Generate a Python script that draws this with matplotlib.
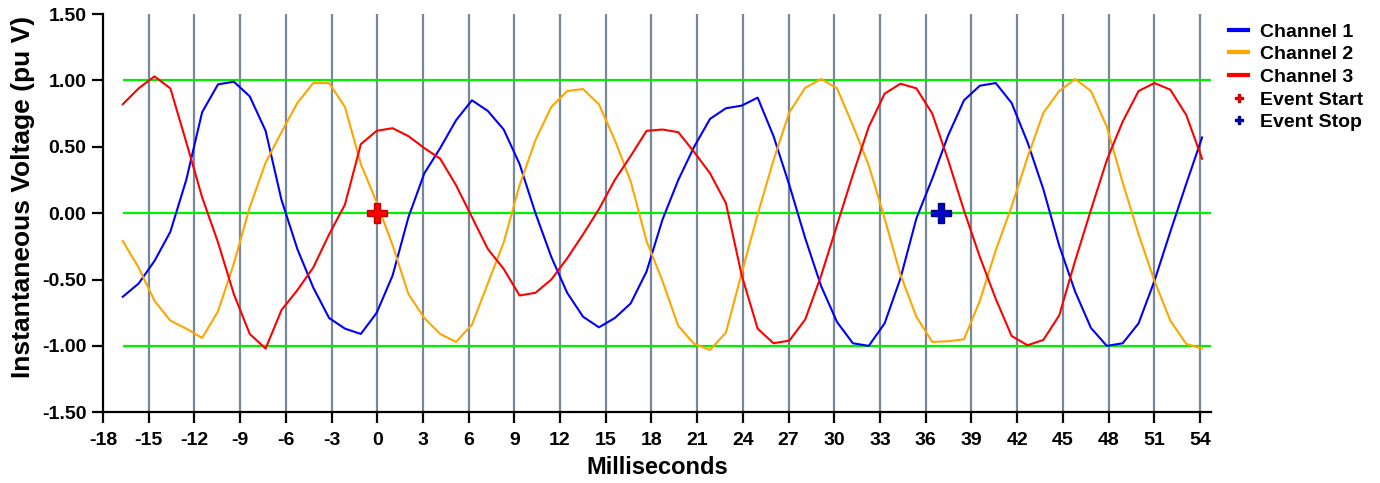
import matplotlib
matplotlib.use("Agg")
import matplotlib.pyplot as plt
import numpy as np

plt.rcParams['font.family'] = ['Liberation Sans', 'DejaVu Sans']
plt.rcParams['font.weight'] = 'bold'
plt.rcParams['axes.unicode_minus'] = False

# sample timebase (ms): every other sample of a 1920 Hz record
t_start = -16.70
t_step = 1.0417

ch1 = [-0.63, -0.53, -0.36, -0.14, 0.25, 0.76, 0.97, 0.99, 0.88, 0.62,
       0.10, -0.27, -0.56, -0.79, -0.87, -0.91, -0.75, -0.47, -0.03, 0.30,
       0.49, 0.70, 0.85, 0.77, 0.63, 0.37, 0.00, -0.33, -0.60, -0.78,
       -0.86, -0.79, -0.68, -0.44, -0.05, 0.25, 0.50, 0.71, 0.79, 0.81,
       0.87, 0.58, 0.21, -0.19, -0.55, -0.82, -0.98, -1.00, -0.83, -0.49,
       -0.04, 0.26, 0.585, 0.85, 0.96, 0.98, 0.83, 0.535, 0.18, -0.245,
       -0.59, -0.865, -1.00, -0.98, -0.83, -0.51, -0.14, 0.22, 0.57]

ch2 = [-0.21, -0.41, -0.66, -0.81, -0.87, -0.94, -0.74, -0.38, 0.045, 0.38,
       0.61, 0.83, 0.98, 0.98, 0.80, 0.37, 0.08, -0.24, -0.61, -0.79,
       -0.91, -0.97, -0.84, -0.53, -0.22, 0.21, 0.55, 0.80, 0.92, 0.935,
       0.82, 0.55, 0.24, -0.21, -0.51, -0.85, -0.985, -1.03, -0.90, -0.45,
       -0.01, 0.40, 0.76, 0.945, 1.01, 0.94, 0.66, 0.36, -0.04, -0.465,
       -0.78, -0.97, -0.965, -0.95, -0.66, -0.28, 0.05, 0.42, 0.755, 0.92,
       1.01, 0.92, 0.65, 0.23, -0.16, -0.51, -0.81, -0.985, -1.02]

ch3 = [0.82, 0.94, 1.03, 0.94, 0.535, 0.12, -0.22, -0.61, -0.91, -1.02,
       -0.73, -0.58, -0.41, -0.16, 0.065, 0.52, 0.62, 0.64, 0.58, 0.49,
       0.41, 0.21, -0.03, -0.27, -0.42, -0.62, -0.60, -0.50, -0.34, -0.16,
       0.03, 0.25, 0.43, 0.62, 0.63, 0.61, 0.46, 0.30, 0.075, -0.47,
       -0.87, -0.98, -0.96, -0.80, -0.47, -0.09, 0.29, 0.65, 0.90, 0.975,
       0.94, 0.75, 0.40, 0.02, -0.33, -0.645, -0.925, -0.995, -0.955, -0.77,
       -0.36, 0.025, 0.40, 0.69, 0.92, 0.98, 0.93, 0.74, 0.41]

event_start = (0.0, 0.0)
event_stop = (37.0, 0.0)

ref_levels = [1.0, 0.0, -1.0]
x_ticks = np.arange(-18, 55, 3)
y_ticks = np.arange(-1.5, 1.51, 0.5)

t = t_start + t_step * np.arange(len(ch1))

fig = plt.figure(figsize=(13.8, 4.83), dpi=100)
ax = fig.add_axes([0.0746, 0.1464, 0.8027, 0.8246])

# vertical grid at every x tick
for xv in x_ticks[1:]:
    ax.axvline(xv, color='#778899', lw=1.6, zorder=1)
# reference levels at +1, 0, -1 pu
ax.hlines(ref_levels, t[0], 54.7, colors='#00f000', lw=1.6, zorder=2)

ax.plot(t, ch1, color='#0000ff', lw=1.5, label='Channel 1', zorder=3)
ax.plot(t, ch2, color='#ffa500', lw=1.5, label='Channel 2', zorder=3)
ax.plot(t, ch3, color='#ff0000', lw=1.5, label='Channel 3', zorder=3)
ax.plot(*event_start, marker='P', ms=14, color='#ff0000', mec='#c00000',
        mew=1, ls='none', label='Event Start', zorder=4)
ax.plot(*event_stop, marker='P', ms=14, color='#0000cc', mec='#000080',
        mew=1, ls='none', label='Event Stop', zorder=4)

ax.set_xlim(-18, 54.7)
ax.set_ylim(-1.5, 1.5)
ax.set_xticks(x_ticks)
ax.set_yticks(y_ticks)
ax.set_yticklabels(['%.2f' % v for v in y_ticks])
ax.tick_params(direction='out', length=8, width=1.6, labelsize=14, pad=4)
ax.tick_params(axis='x', pad=6)
for lab in ax.get_xticklabels() + ax.get_yticklabels():
    lab.set_fontweight('bold')
for s in ['top', 'right']:
    ax.spines[s].set_visible(False)
for s in ['left', 'bottom']:
    ax.spines[s].set_linewidth(1.6)

ax.set_xlabel('Milliseconds', fontsize=17, fontweight='bold', labelpad=5)
ax.set_ylabel('Instantaneous Voltage (pu V)', fontsize=19, fontweight='bold')
ax.yaxis.set_label_coords(-0.061, 0.54)

leg = fig.legend(loc='upper left', bbox_to_anchor=(1229 / 1380, 1 - 23 / 483),
                 frameon=False, fontsize=14, handlelength=1.0, handletextpad=0.6,
                 labelspacing=0.26, markerscale=0.45, borderaxespad=0,
                 borderpad=0)
for h in leg.get_lines():
    h.set_linewidth(3)
for txt in leg.get_texts():
    txt.set_fontweight('bold')

fig.savefig('out.png', dpi=100)
